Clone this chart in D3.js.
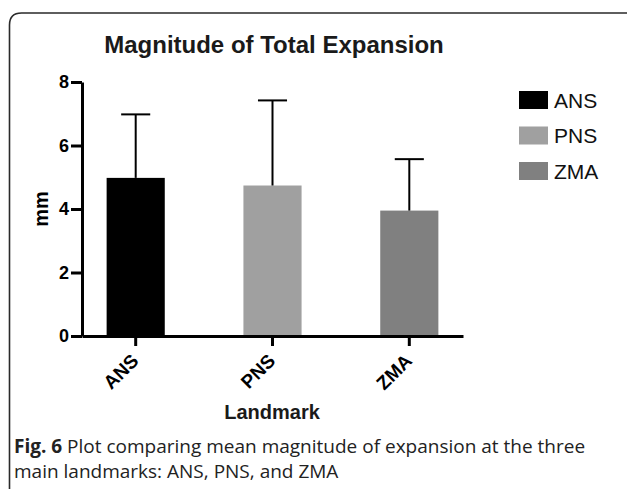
<!DOCTYPE html>
<html>
<head>
<meta charset="utf-8">
<script src="https://cdn.jsdelivr.net/npm/d3@7"></script>
<style>
  body { margin: 0; background: #fff; }
  svg { display: block; }
  .axis path, .axis line { stroke: #000; stroke-width: 3; }
  .axis text { font-family: "Liberation Sans", Arial, sans-serif; font-weight: bold; fill: #000; }
</style>
</head>
<body>
<svg id="chart" width="627" height="489"></svg>
<script>
const landmarks = ["ANS", "PNS", "ZMA"];
const means = [4.98, 4.74, 3.95];
const sds = [2.0, 2.68, 1.62];
const colors = ["#000000", "#a0a0a0", "#808080"];
const yTicks = [0, 2, 4, 6, 8];

const svg = d3.select("#chart");

// frame around the figure (top + left, rounded corner)
svg.append("path")
  .attr("d", "M9.5,489 L9.5,25 Q9.5,13 21.5,13 L627,13")
  .attr("fill", "none")
  .attr("stroke", "#2a2a2a")
  .attr("stroke-width", 1.6);

const x = d3.scaleBand()
  .domain(landmarks)
  .range([82, 463])
  .paddingInner(0.575)
  .paddingOuter(0.18);

const y = d3.scaleLinear().domain([0, 8]).range([336, 82]);

svg.append("text")
  .attr("x", 274)
  .attr("y", 53)
  .attr("text-anchor", "middle")
  .style("font", "bold 24px 'Liberation Sans', Arial, sans-serif")
  .style("fill", "#1a1a1a")
  .text("Magnitude of Total Expansion");

// bars
svg.append("g")
  .selectAll("rect")
  .data(landmarks)
  .join("rect")
  .attr("x", (d) => x(d))
  .attr("y", (d, i) => y(means[i]))
  .attr("width", x.bandwidth())
  .attr("height", (d, i) => y(0) - y(means[i]))
  .attr("fill", (d, i) => colors[i]);

// error bars (upper only)
const err = svg.append("g").attr("stroke", "#000").attr("stroke-width", 2);
landmarks.forEach((d, i) => {
  const cx = x(d) + x.bandwidth() / 2;
  const half = x.bandwidth() / 4;
  err.append("line")
    .attr("x1", cx).attr("x2", cx)
    .attr("y1", y(means[i])).attr("y2", y(means[i] + sds[i]));
  err.append("line")
    .attr("x1", cx - half).attr("x2", cx + half)
    .attr("y1", y(means[i] + sds[i])).attr("y2", y(means[i] + sds[i]));
});

// axes
const yAxis = svg.append("g")
  .attr("class", "axis")
  .attr("transform", "translate(82,0)")
  .call(d3.axisLeft(y).tickValues(yTicks).tickSize(11).tickSizeOuter(0).tickPadding(2));
yAxis.selectAll("text").style("font-size", "18px");

const xAxis = svg.append("g")
  .attr("class", "axis")
  .attr("transform", "translate(0,336)")
  .call(d3.axisBottom(x).tickSize(10).tickSizeOuter(0));
xAxis.selectAll("text")
  .style("font-size", "19px")
  .attr("x", 0)
  .attr("y", 0)
  .attr("dy", 0)
  .attr("text-anchor", "end")
  .attr("transform", "translate(4,26) rotate(-45)");

svg.append("text")
  .attr("transform", "translate(48,209) rotate(-90)")
  .attr("text-anchor", "middle")
  .style("font", "bold 20px 'Liberation Sans', Arial, sans-serif")
  .text("mm");

svg.append("text")
  .attr("x", 272)
  .attr("y", 419)
  .attr("text-anchor", "middle")
  .style("font", "bold 20px 'Liberation Sans', Arial, sans-serif")
  .style("fill", "#1a1a1a")
  .text("Landmark");

// legend
const legend = svg.append("g")
  .selectAll("g")
  .data(landmarks)
  .join("g")
  .attr("transform", (d, i) => `translate(519,${91 + i * 35.5})`);
legend.append("rect")
  .attr("width", 29)
  .attr("height", 18)
  .attr("fill", (d, i) => colors[i]);
legend.append("text")
  .attr("x", 35)
  .attr("y", 16.5)
  .style("font", "21px 'Liberation Sans', Arial, sans-serif")
  .style("fill", "#111")
  .text((d) => d);

// caption
const caption = svg.append("text")
  .style("font-family", "'Open Sans', sans-serif")
  .style("font-size", "19px")
  .style("fill", "#222");
const line1 = caption.append("tspan").attr("x", 14).attr("y", 453);
line1.append("tspan").style("font-weight", "bold").text("Fig. 6");
line1.append("tspan").text(" Plot comparing mean magnitude of expansion at the three");
caption.append("tspan").attr("x", 14).attr("y", 478)
  .text("main landmarks: ANS, PNS, and ZMA");
</script>
</body>
</html>
